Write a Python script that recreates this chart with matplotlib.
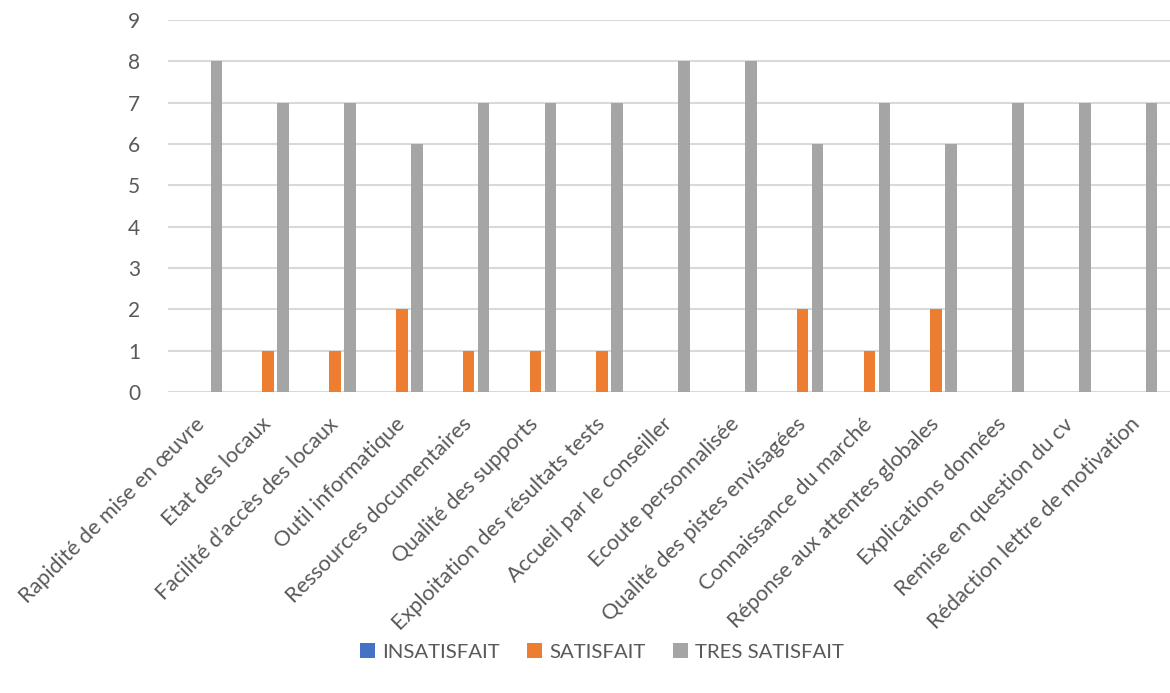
import matplotlib
matplotlib.use("Agg")
import matplotlib.pyplot as plt
import numpy as np

categories = [
    "Rapidité de mise en œuvre",
    "Etat des locaux",
    "Facilité d’accès des locaux",
    "Outil informatique",
    "Ressources documentaires",
    "Qualité des supports",
    "Exploitation des résultats tests",
    "Accueil par le conseiller",
    "Ecoute personnalisée",
    "Qualité des pistes envisagées",
    "Connaissance du marché",
    "Réponse aux attentes globales",
    "Explications données",
    "Remise en question du cv",
    "Rédaction lettre de motivation",
]
series_names = ["INSATISFAIT", "SATISFAIT", "TRES SATISFAIT"]
insatisfait = [0, 0, 0, 0, 0, 0, 0, 0, 0, 0, 0, 0, 0, 0, 0]
satisfait = [0, 1, 1, 2, 1, 1, 1, 0, 0, 2, 1, 2, 0, 0, 0]
tres_satisfait = [8, 7, 7, 6, 7, 7, 7, 8, 8, 6, 7, 6, 7, 7, 7]
yticks = list(range(0, 10))

colors = ["#4472C4", "#ED7D31", "#A5A5A5"]
text_color = "#595959"

plt.rcParams['font.family'] = ['Lato', 'DejaVu Sans']

fig = plt.figure(figsize=(11.7, 6.93), dpi=100)
ax = fig.add_axes([168/1170, 1-392/693, 1-168/1170, (392-20)/693])

x = np.arange(len(categories))
w = 0.172
off = 0.224
for i, (vals, name, c) in enumerate(zip([insatisfait, satisfait, tres_satisfait], series_names, colors)):
    ax.bar(x + (i-1)*off, vals, width=w, color=c, label=name, zorder=3)

ax.set_xlim(-0.5, len(categories)-0.5)
ax.set_ylim(0, 9)
ax.set_yticks(yticks)
ax.yaxis.grid(True, color="#D9D9D9", linewidth=1.5, zorder=0)
ax.set_axisbelow(True)
for s in ax.spines.values():
    s.set_visible(False)
ax.tick_params(axis='both', length=0, colors=text_color)
ax.tick_params(axis='y', pad=20, labelsize=15)
ax.set_xticks(x)
ax.set_xticklabels(categories, rotation=45, ha='right', rotation_mode='anchor', va='center')
ax.tick_params(axis='x', pad=21, labelsize=15.6)

leg = fig.legend(loc='center', bbox_to_anchor=(602/1170, 1-652/693), ncol=3, frameon=False,
                 fontsize=14.7, handlelength=0.72, handleheight=0.72, handletextpad=0.35,
                 columnspacing=1.35, labelcolor=text_color)

fig.savefig("out.png", dpi=100)
